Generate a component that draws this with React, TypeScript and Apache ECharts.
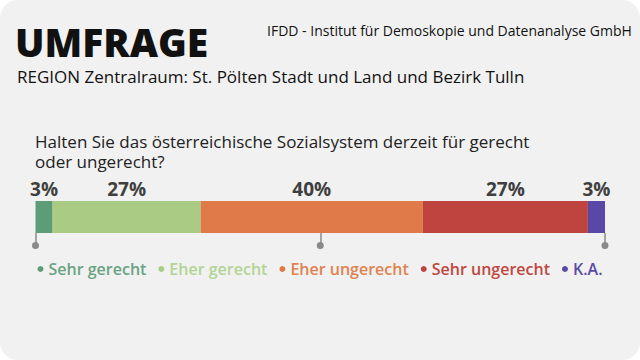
import React, { useEffect, useRef } from "react";
import * as echarts from "echarts";

const categories = ["Sehr gerecht", "Eher gerecht", "Eher ungerecht", "Sehr ungerecht", "K.A."];
const values = [3, 26, 39, 29, 3];
const valueLabels = ["3%", "27%", "40%", "27%", "3%"];
const colors = ["#5c9d78", "#a9cb84", "#e07a48", "#bf433f", "#5a48a6"];
const legendTextColors = ["#6aa383", "#b3d496", "#e0824f", "#c0473f", "#5a4aa6"];
const xTicks = [0, 50, 100];

const FONT = "'Open Sans', 'Noto Sans', sans-serif";

export default function App() {
  const ref = useRef<HTMLDivElement>(null);
  useEffect(() => {
    if (!ref.current) return;
    const chart = echarts.init(ref.current, null, { renderer: "svg" });
    chart.setOption({
      animation: false,
      backgroundColor: "transparent",
      textStyle: { fontFamily: FONT },
      title: [
        {
          text: "UMFRAGE",
          left: 15,
          top: 22,
          padding: 0,
          textStyle: { fontSize: 39, fontWeight: 800, color: "#111", fontFamily: FONT },
        },
        {
          text: "IFDD - Institut für Demoskopie und Datenanalyse GmbH",
          left: 267,
          top: 23,
          padding: 0,
          textStyle: { fontSize: 14, fontWeight: 400, color: "#111", fontFamily: FONT },
        },
        {
          text: "REGION Zentralraum: St. Pölten Stadt und Land und Bezirk Tulln",
          left: 17,
          top: 68,
          padding: 0,
          textStyle: { fontSize: 17, fontWeight: 400, color: "#111", fontFamily: FONT },
        },
        {
          text: "Halten Sie das österreichische Sozialsystem derzeit für gerecht",
          left: 35,
          top: 132,
          padding: 0,
          textStyle: { fontSize: 17, fontWeight: 400, color: "#222", lineHeight: 18, fontFamily: FONT },
        },
        {
          text: "oder ungerecht?",
          left: 35,
          top: 152,
          padding: 0,
          textStyle: { fontSize: 17, fontWeight: 400, color: "#222", lineHeight: 18, fontFamily: FONT },
        },
      ],
      legend: {
        left: "center",
        top: 256,
        icon: "circle",
        itemWidth: 6,
        itemHeight: 6,
        itemGap: 12,
        selectedMode: false,
        data: categories.map((c, i) => ({
          name: c,
          textStyle: { color: legendTextColors[i] },
        })),
        textStyle: { fontSize: 16, fontWeight: 600, fontFamily: FONT },
      },
      grid: { left: 35.5, right: 35, top: 201, height: 32 },
      xAxis: {
        type: "value",
        min: xTicks[0],
        max: xTicks[xTicks.length - 1],
        interval: 50,
        splitLine: { show: false },
        axisLine: { show: false },
        axisTick: { show: true, length: 11, lineStyle: { color: "#8a8a8a", width: 1.5 } },
        axisLabel: {
          margin: 9,
          formatter: () => "{d|}",
          rich: {
            d: { width: 7, height: 7, borderRadius: 3.5, backgroundColor: "#8a8a8a" },
          },
        },
      },
      yAxis: { type: "category", data: ["q"], show: false },
      series: categories.map((c, i) => ({
        name: c,
        type: "bar",
        stack: "total",
        barWidth: "100%",
        data: [values[i]],
        itemStyle: { color: colors[i] },
        emphasis: { disabled: true },
        label: {
          show: true,
          position: "top",
          distance: 3,
          formatter: () => valueLabels[i],
          fontSize: 19,
          fontWeight: 700,
          color: "#3f3f3f",
          fontFamily: FONT,
        },
      })),
    });
    return () => chart.dispose();
  }, []);
  return (
    <div
      style={{
        position: "fixed",
        left: 0,
        top: 0,
        width: 640,
        height: 360,
        background: "#ffffff",
      }}
    >
      <div
        style={{
          position: "absolute",
          left: 0,
          top: 0,
          width: 640,
          height: 360,
          background: "#f1f1f1",
          borderRadius: 18,
        }}
      />
      <div ref={ref} style={{ position: "absolute", left: 0, top: 0, width: 640, height: 360 }} />
    </div>
  );
}
